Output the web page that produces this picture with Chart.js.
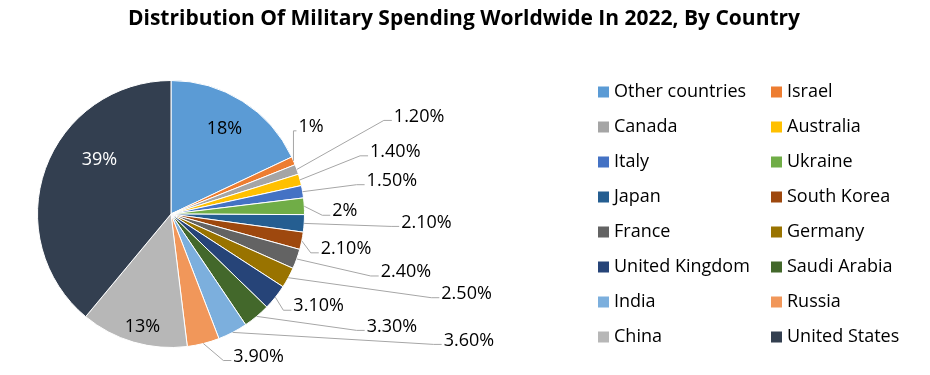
<!DOCTYPE html>
<html>
<head>
<meta charset="utf-8">
<script src="https://cdn.jsdelivr.net/npm/chart.js@4"></script>
<style>
    html, body { margin: 0; padding: 0; background: #fff; }
    #wrap { width: 930px; height: 375px; position: relative; }
</style>
</head>
<body>
<div id="wrap"><canvas id="chart"></canvas></div>
<script>
const chartTitle = "Distribution Of Military Spending Worldwide In 2022, By Country";
const countries = [
    "Other countries", "Israel", "Canada", "Australia", "Italy", "Ukraine",
    "Japan", "South Korea", "France", "Germany", "United Kingdom", "Saudi Arabia",
    "India", "Russia", "China", "United States"
];
const shares = [18, 1, 1.2, 1.4, 1.5, 2, 2.1, 2.1, 2.4, 2.5, 3.1, 3.3, 3.6, 3.9, 13, 39];
const shareLabels = [
    "18%", "1%", "1.20%", "1.40%", "1.50%", "2%", "2.10%", "2.10%",
    "2.40%", "2.50%", "3.10%", "3.30%", "3.60%", "3.90%", "13%", "39%"
];
const colors = [
    "#5B9BD5", "#ED7D31", "#A5A5A5", "#FFC000", "#4472C4", "#70AD47",
    "#255E91", "#9E480E", "#636363", "#997300", "#264478", "#43682B",
    "#7CAFDD", "#F1975A", "#B7B7B7", "#333F50"
];

// where each label sits, measured from the slice's outer mid point
const labelOffsets = [
    [-18, 28], [5, -34], [97, -53], [70, -28], [64, -11], [28, 5],
    [97, -1], [19, 8], [84, 13], [153, 16], [18, 9], [110, 10],
    [211, 8], [30, 13], [9, -15], [54, -9]
];
const insideLabel = [true, false, false, false, false, false, false, false,
    false, false, false, false, false, false, true, true];

const sliceLabels = {
    id: "sliceLabels",
    afterDatasetsDraw(chart) {
        const ctx = chart.ctx;
        const meta = chart.getDatasetMeta(0);
        ctx.save();
        ctx.font = "18px 'Open Sans'";
        ctx.textBaseline = "middle";
        meta.data.forEach((arc, i) => {
            const mid = (arc.startAngle + arc.endAngle) / 2;
            const ex = arc.x + Math.cos(mid) * arc.outerRadius;
            const ey = arc.y + Math.sin(mid) * arc.outerRadius;
            const lx = ex + labelOffsets[i][0];
            const ly = ey + labelOffsets[i][1];

            if (insideLabel[i]) {
                ctx.textAlign = "center";
                ctx.fillStyle = i === 15 ? "#fff" : "#000";
                ctx.fillText(shareLabels[i], lx, ly);
                return;
            }

            // leader line with a short flat end
            const elbowX = Math.max(lx - 10, Math.min(ex, lx - 2));
            ctx.strokeStyle = "#a6a6a6";
            ctx.lineWidth = 1;
            ctx.beginPath();
            ctx.moveTo(ex, ey);
            ctx.lineTo(elbowX, ly + 4);
            ctx.lineTo(lx - 2, ly + 4);
            ctx.stroke();

            ctx.textAlign = "left";
            ctx.fillStyle = "#000";
            ctx.fillText(shareLabels[i], lx, ly);
        });
        ctx.restore();
    }
};

// title centred on the whole canvas, plus a two-column legend filled row by row
const gridLegend = {
    id: "gridLegend",
    afterDraw(chart, args, opts) {
        const ctx = chart.ctx;
        const labels = chart.data.labels;
        const bg = chart.data.datasets[0].backgroundColor;
        ctx.save();
        ctx.textBaseline = "middle";

        ctx.font = "bold 21px 'Open Sans'";
        ctx.textAlign = "center";
        ctx.fillStyle = "#000";
        ctx.fillText(chartTitle, chart.width / 2 - 1, 19);

        ctx.font = "18px 'Open Sans'";
        ctx.textAlign = "left";
        labels.forEach((name, i) => {
            const x = opts.columns[i % 2];
            const y = opts.top + Math.floor(i / 2) * opts.rowGap;
            ctx.fillStyle = bg[i];
            ctx.fillRect(x, y - 5.5, 11, 11);
            ctx.fillStyle = "#000";
            ctx.fillText(name, x + 16, y);
        });
        ctx.restore();
    }
};

new Chart(document.getElementById("chart"), {
    type: "pie",
    data: {
        labels: countries,
        datasets: [{
            data: shares,
            backgroundColor: colors,
            borderColor: "#fff",
            borderWidth: 1
        }]
    },
    options: {
        responsive: true,
        maintainAspectRatio: false,
        animation: false,
        layout: {
            padding: { left: 37, right: 625, top: 80, bottom: 27 }
        },
        plugins: {
            legend: { display: false },
            tooltip: { enabled: false },
            title: { display: false },
            gridLegend: { columns: [598, 771], top: 92, rowGap: 35 }
        }
    },
    plugins: [sliceLabels, gridLegend]
});
</script>
</body>
</html>
